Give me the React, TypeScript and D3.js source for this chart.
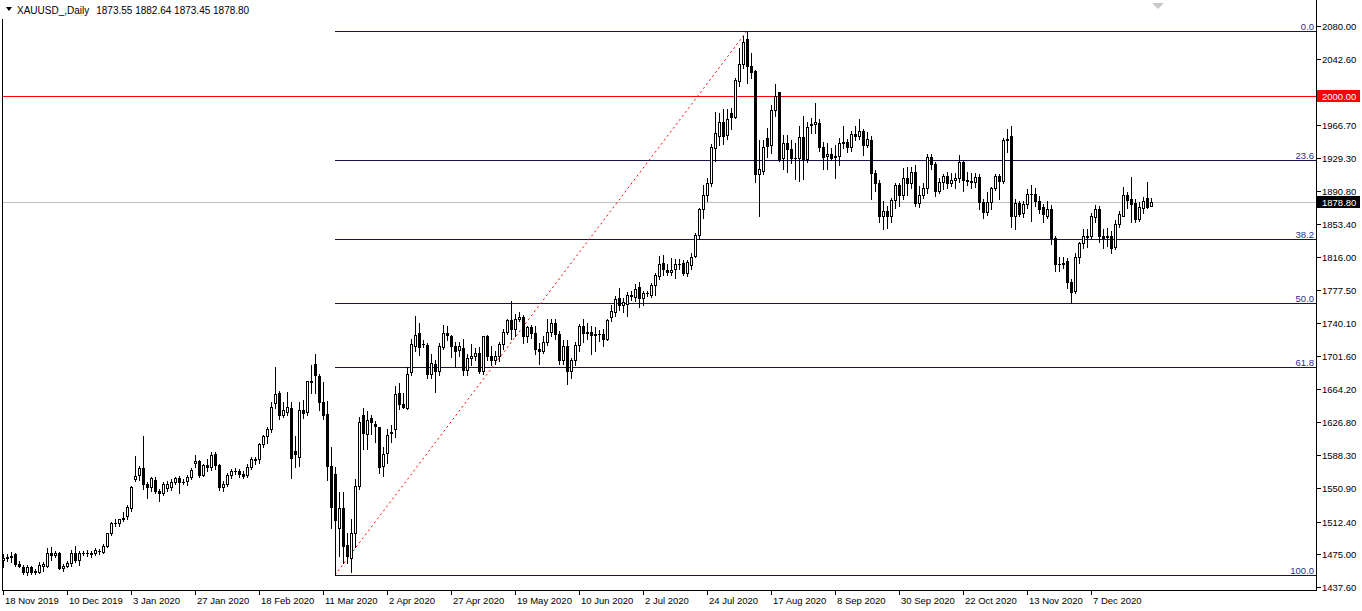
import React from "react";
import * as d3 from "d3";

const W = 1362;
const H = 611;

const headerSymbol = "XAUUSD_,Daily";
const headerValues = "1873.55 1882.64 1873.45 1878.80";

const dateLabels = ["18 Nov 2019", "10 Dec 2019", "3 Jan 2020", "27 Jan 2020", "18 Feb 2020", "11 Mar 2020", "2 Apr 2020", "27 Apr 2020", "19 May 2020", "10 Jun 2020", "2 Jul 2020", "24 Jul 2020", "17 Aug 2020", "8 Sep 2020", "30 Sep 2020", "22 Oct 2020", "13 Nov 2020", "7 Dec 2020"];
const barsPerDateLabel = 16;

// 2004.20 sits under the red 2000.00 marker (only its tick shows)
const priceTicks = [2080.0, 2042.6, 2004.2, 1966.7, 1929.3, 1890.8, 1853.4, 1816.0, 1777.5, 1740.1, 1701.6, 1664.2, 1626.8, 1588.3, 1550.9, 1512.4, 1475.0, 1437.6];
const hiddenTick = 2004.2;

const opens = [
  1468,1471,1472,1475,1464,1461,1455,1461,1456,1455,1462,1462,1477,1474,1477,1459,
  1462,1465,1476,1468,1476,1477,1476,1476,1479,1478,1485,1499,1511,1511,1515,1519,
  1528,1561,1566,1574,1556,1552,1560,1547,1545,1551,1552,1558,1562,1558,1559,1564,
  1580,1582,1566,1577,1575,1590,1577,1552,1555,1566,1570,1571,1567,1566,1575,1584,
  1584,1601,1610,1618,1648,1660,1635,1638,1643,1593,1586,1640,1638,1672,1693,1679,
  1650,1636,1576,1567,1505,1528,1486,1471,1500,1553,1635,1613,1631,1624,1621,1576,
  1591,1614,1619,1660,1647,1642,1684,1713,1729,1716,1715,1682,1693,1685,1712,1729,
  1725,1713,1709,1711,1686,1700,1702,1705,1685,1725,1702,1698,1702,1716,1730,1743,
  1733,1745,1747,1725,1735,1728,1710,1708,1718,1730,1740,1727,1698,1714,1685,1698,
  1715,1737,1728,1730,1726,1727,1727,1722,1747,1753,1768,1760,1762,1771,1770,1781,
  1769,1774,1772,1783,1794,1809,1801,1798,1802,1807,1809,1797,1806,1817,1841,1871,
  1887,1900,1940,1954,1970,1955,1980,1976,2017,2037,2065,2034,2028,1910,1914,1952,
  1944,1984,2004,1929,1946,1939,1929,1929,1953,1928,1967,1968,1969,1942,1931,1934,
  1930,1931,1946,1947,1941,1956,1954,1960,1944,1950,1912,1900,1863,1868,1862,1881,
  1898,1886,1906,1900,1913,1877,1887,1894,1930,1922,1891,1901,1908,1900,1904,1906,
  1924,1904,1902,1901,1907,1878,1867,1878,1894,1908,1902,1949,1954,1863,1877,1866,
  1876,1888,1888,1880,1873,1863,1870,1837,1807,1808,1811,1787,1776,1816,1831,1840,
  1840,1861,1870,1839,1838,1839,1827,1853,1863,1886,1882,1877,1859,1872,1883,1873.55,
];

const highs = [
  1475,1475,1478,1476,1467,1463,1463,1462,1458,1466,1466,1482,1483,1479,1478,1464,
  1467,1480,1484,1479,1479,1480,1479,1482,1481,1487,1500,1512,1515,1516,1524,1531,
  1553,1588,1576,1611,1558,1563,1563,1550,1558,1559,1561,1563,1565,1561,1566,1574,
  1589,1583,1579,1584,1592,1592,1579,1559,1568,1573,1574,1573,1570,1578,1586,1586,
  1603,1612,1621,1649,1690,1662,1650,1661,1649,1610,1649,1652,1674,1692,1704,1681,
  1672,1651,1598,1575,1546,1546,1500,1516,1561,1632,1643,1639,1634,1628,1621,1598,
  1619,1623,1668,1671,1660,1690,1722,1748,1740,1720,1717,1704,1697,1717,1738,1737,
  1726,1718,1718,1722,1704,1716,1711,1712,1725,1726,1714,1708,1718,1733,1745,1765,
  1750,1752,1749,1737,1738,1736,1717,1725,1744,1745,1745,1731,1720,1720,1700,1718,
  1739,1744,1740,1737,1735,1732,1733,1745,1760,1771,1780,1768,1775,1776,1785,1787,
  1776,1777,1786,1797,1817,1818,1808,1814,1813,1813,1812,1812,1820,1843,1872,1898,
  1906,1945,1981,1980,1985,1985,1986,2021,2055,2069,2074,2049,2030,1949,1950,1963,
  1990,2014,2004,1955,1955,1950,1946,1965,1977,1970,1975,1992,1973,1947,1946,1940,
  1944,1952,1966,1951,1960,1966,1973,1962,1959,1954,1915,1904,1880,1874,1883,1900,
  1900,1917,1918,1919,1921,1897,1900,1933,1933,1924,1906,1911,1913,1912,1912,1932,
  1925,1913,1912,1912,1911,1882,1890,1896,1911,1910,1952,1962,1966,1882,1880,1880,
  1893,1898,1895,1885,1876,1880,1875,1839,1815,1815,1814,1790,1820,1833,1848,1848,
  1866,1875,1874,1848,1849,1845,1858,1868,1896,1890,1907,1882,1879,1884,1901,1882.64,
];

const lows = [
  1460,1467,1466,1462,1460,1453,1451,1452,1453,1454,1456,1461,1469,1472,1458,1456,
  1460,1462,1466,1463,1474,1473,1472,1474,1475,1476,1483,1497,1508,1508,1513,1516,
  1525,1559,1560,1550,1539,1548,1545,1536,1543,1547,1549,1556,1545,1555,1554,1561,
  1575,1564,1565,1571,1572,1573,1549,1547,1553,1562,1567,1563,1562,1564,1573,1579,
  1580,1598,1603,1615,1643,1630,1632,1635,1562,1575,1576,1631,1634,1660,1660,1640,
  1630,1560,1505,1451,1473,1465,1465,1455,1483,1550,1596,1596,1613,1604,1568,1565,
  1580,1604,1609,1641,1642,1641,1680,1708,1703,1712,1677,1677,1661,1680,1710,1720,
  1701,1690,1702,1680,1680,1692,1697,1683,1682,1697,1692,1693,1696,1710,1727,1722,
  1725,1742,1717,1718,1723,1704,1693,1705,1715,1725,1722,1693,1693,1670,1677,1692,
  1708,1718,1722,1704,1708,1719,1714,1720,1742,1748,1755,1752,1748,1766,1765,1758,
  1760,1771,1770,1772,1790,1795,1795,1795,1791,1802,1795,1794,1802,1816,1836,1860,
  1880,1897,1925,1944,1945,1951,1962,1975,2011,2032,2015,2020,1901,1863,1910,1930,
  1935,1977,1925,1916,1913,1923,1905,1903,1905,1924,1958,1958,1937,1916,1916,1926,
  1906,1921,1940,1936,1937,1950,1951,1932,1941,1882,1891,1855,1848,1849,1856,1872,
  1874,1882,1887,1895,1874,1873,1883,1889,1916,1885,1889,1893,1894,1897,1895,1901,
  1891,1898,1894,1896,1870,1860,1864,1870,1892,1882,1900,1936,1850,1848,1862,1861,
  1872,1857,1874,1866,1856,1860,1830,1800,1800,1803,1780,1763,1774,1809,1826,1827,
  1837,1856,1833,1826,1828,1820,1825,1850,1862,1872,1855,1856,1857,1866,1872,1873.45,
];

const closes = [
  1471,1472,1473,1464,1462,1455,1461,1455,1455,1463,1464,1477,1474,1477,1459,1462,
  1465,1476,1469,1476,1477,1476,1475,1480,1479,1485,1499,1511,1511,1515,1517,1529,
  1552,1565,1574,1556,1552,1562,1547,1545,1556,1555,1558,1562,1558,1558,1564,1572,
  1582,1566,1577,1575,1589,1577,1552,1555,1566,1570,1571,1567,1565,1575,1584,1583,
  1601,1611,1619,1644,1659,1635,1640,1644,1585,1590,1640,1637,1673,1674,1680,1649,
  1634,1576,1529,1514,1528,1485,1473,1499,1553,1627,1614,1629,1626,1622,1575,1590,
  1612,1615,1659,1647,1644,1681,1716,1726,1712,1716,1682,1694,1685,1713,1729,1726,
  1713,1708,1713,1686,1700,1702,1705,1685,1725,1702,1698,1702,1716,1730,1743,1733,
  1745,1747,1725,1735,1728,1710,1708,1718,1730,1740,1727,1698,1714,1685,1698,1715,
  1737,1728,1730,1726,1727,1727,1722,1743,1754,1767,1760,1764,1772,1772,1779,1769,
  1774,1774,1783,1795,1808,1802,1798,1801,1808,1808,1797,1810,1816,1841,1871,1887,
  1900,1941,1958,1970,1954,1974,1976,2018,2037,2062,2034,2027,1910,1916,1942,1943,
  1984,2000,1928,1946,1939,1929,1929,1953,1928,1964,1968,1970,1942,1930,1934,1929,
  1931,1946,1947,1941,1956,1954,1960,1944,1951,1912,1900,1863,1868,1862,1881,1898,
  1886,1906,1900,1913,1877,1887,1894,1930,1922,1891,1901,1908,1900,1904,1906,1924,
  1904,1902,1901,1907,1878,1867,1878,1894,1908,1902,1949,1951,1862,1877,1865,1876,
  1888,1888,1880,1871,1865,1870,1837,1807,1808,1809,1787,1775,1816,1831,1840,1838,
  1862,1870,1839,1837,1839,1826,1853,1865,1886,1881,1876,1859,1873,1880,1873,1878.8,
];

const fibLevels = [0, 23.6, 38.2, 50.0, 61.8, 100.0];
const fibLowBar = 83;
const fibHighBar = 186;
const horizontalLevel = 2000.0;
const currentPrice = 1878.8;

const FONT = "'Liberation Sans', Arial, sans-serif";

export default function App() {
  const left = 2, right = 1316, bottom = 590;
  const n = closes.length;
  const x = d3.scaleLinear().domain([0, n - 1]).range([3, 3 + 4 * (n - 1)]);
  const y = d3.scaleLinear().domain([1437.6, 2080]).range([587, 26]);
  const py = (v: number) => Math.round(y(v));

  const candles = d3.range(n).map((i) => {
    const cx = Math.round(x(i));
    const o = opens[i], c = closes[i];
    const h = Math.max(highs[i], o, c), l = Math.min(lows[i], o, c);
    const yO = py(o), yC = py(c), yH = py(h), yL = py(l);
    const t = Math.min(yO, yC), b = Math.max(yO, yC);
    return (
      <g key={i}>
        <rect x={cx} y={yH} width={1} height={yL - yH + 1} fill="#000" />
        {b === t ? (
          <rect x={cx - 1} y={t} width={3} height={1} fill="#000" />
        ) : c > o ? (
          <rect x={cx - 0.5} y={t + 0.5} width={2} height={b - t} fill="#fff" stroke="#000" strokeWidth={1} />
        ) : (
          <rect x={cx - 1} y={t} width={3} height={b - t + 1} fill="#000" />
        )}
      </g>
    );
  });

  const fLow = lows[fibLowBar];
  const fHigh = highs[fibHighBar];
  const fx0 = Math.round(x(fibLowBar));

  return (
    <div style={{ position: "absolute", left: 0, top: 0, width: W, height: H, background: "#fff" }}>
      <svg width={W} height={H} style={{ display: "block" }} fontFamily={FONT}>
        <rect x={0} y={0} width={W} height={H} fill="#fff" />
        <defs>
          <clipPath id="plot">
            <rect x={left + 1} y={0} width={right - left - 1} height={bottom} />
          </clipPath>
        </defs>
        {/* frame: left, right and bottom only */}
        <line x1={left + 0.5} x2={left + 0.5} y1={0} y2={bottom + 1} stroke="#000" />
        <line x1={right + 0.5} x2={right + 0.5} y1={0} y2={bottom + 1} stroke="#000" />
        <line x1={left} x2={right + 1} y1={bottom + 0.5} y2={bottom + 0.5} stroke="#000" />
        <g clipPath="url(#plot)">
          <line x1={left} x2={right} y1={py(currentPrice) + 0.5} y2={py(currentPrice) + 0.5} stroke="#c0c0c0" />
          <line x1={left} x2={right} y1={py(horizontalLevel) + 0.5} y2={py(horizontalLevel) + 0.5} stroke="#ff0000" />
          {fibLevels.map((lv) => {
            const p = fHigh - (lv / 100) * (fHigh - fLow);
            const yy = py(p) + 0.5;
            return (
              <g key={lv}>
                <line x1={fx0} x2={right} y1={yy} y2={yy} stroke="#141450" />
                <text x={right - 2} y={yy - 2} textAnchor="end" fontSize={9.5} fill="#2e2e8a">
                  {lv.toFixed(1)}
                </text>
              </g>
            );
          })}
          <line x1={fx0} y1={py(fLow)} x2={Math.round(x(fibHighBar))} y2={py(fHigh)} stroke="#ff0000" strokeDasharray="2,3" />
          {candles}
        </g>
        {/* header */}
        <rect x={0} y={0} width={274} height={19} fill="#fff" />
        <path d="M6,7 L12,7 L9,11 Z" fill="#000" />
        <text x={17} y={14} fontSize={10} fill="#000">
          {headerSymbol}
          <tspan dx={7}>{headerValues}</tspan>
        </text>
        <path d="M1152,3 L1164,3 L1158,9 Z" fill="#c8c8c8" />
        {/* right axis */}
        {priceTicks.map((p) => {
          const yy = py(p);
          return (
            <g key={p}>
              <rect x={right + 1} y={yy} width={4} height={1} fill="#000" />
              {p !== hiddenTick && (
                <text x={1322} y={yy + 4} fontSize={9.5} fill="#000">
                  {p.toFixed(2)}
                </text>
              )}
            </g>
          );
        })}
        <rect x={right + 1} y={py(horizontalLevel) - 6} width={43} height={12} fill="#ff0000" />
        <text x={1322} y={py(horizontalLevel) + 4} fontSize={9.5} fill="#fff">
          {horizontalLevel.toFixed(2)}
        </text>
        <rect x={right + 1} y={py(currentPrice) - 6} width={43} height={12} fill="#000" />
        <text x={1322} y={py(currentPrice) + 4} fontSize={9.5} fill="#fff">
          {currentPrice.toFixed(2)}
        </text>
        {/* bottom axis */}
        {dateLabels.map((lab, k) => {
          const xx = Math.round(x(k * barsPerDateLabel));
          return (
            <g key={lab}>
              <rect x={xx} y={bottom + 1} width={1} height={4} fill="#000" />
              <text x={xx + 2} y={604} fontSize={9.5} fill="#000">
                {lab}
              </text>
            </g>
          );
        })}
      </svg>
    </div>
  );
}
